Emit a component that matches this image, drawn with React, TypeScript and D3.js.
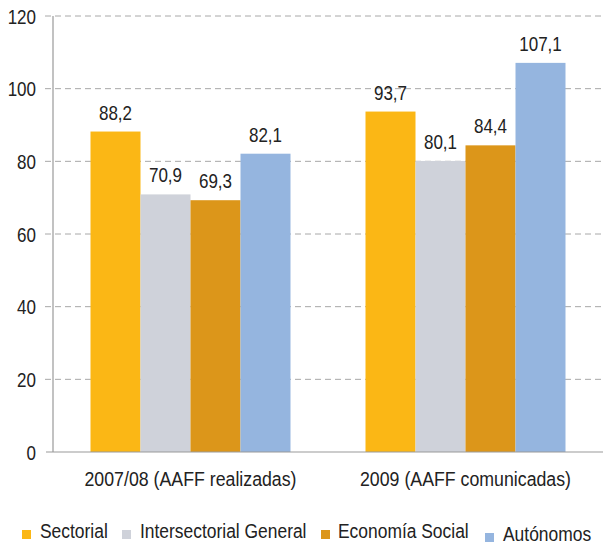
import React from "react";
import * as d3 from "d3";

const categories = ["2007/08 (AAFF realizadas)", "2009 (AAFF comunicadas)"];
const seriesNames = ["Sectorial", "Intersectorial General", "Economía Social", "Autónomos"];
const sectorial = [88.2, 93.7];
const intersectorial = [70.9, 80.1];
const economiaSocial = [69.3, 84.4];
const autonomos = [82.1, 107.1];
const yTicks = [0, 20, 40, 60, 80, 100, 120];
const colors = ["#FBB715", "#CFD2DA", "#DC961A", "#95B5DF"];

const seriesValues = [sectorial, intersectorial, economiaSocial, autonomos];

const W = 603;
const H = 549;
const left = 53;
const right = 603;
const top = 16;
const bottom = 452;
const FONT = "'Liberation Sans', Arial, sans-serif";

// Condensed text: regular sans glyphs squeezed horizontally
function CText(props: {
  x: number;
  y: number;
  size: number;
  sx?: number;
  anchor?: "start" | "middle" | "end";
  dy?: string;
  children: React.ReactNode;
}) {
  const sx = props.sx ?? 0.81;
  return (
    <text
      transform={`translate(${props.x},${props.y}) scale(${sx},1)`}
      textAnchor={props.anchor || "start"}
      dy={props.dy}
      fontSize={props.size}
      fontFamily={FONT}
      fill="#222"
    >
      {props.children}
    </text>
  );
}

export default function App() {
  const y = d3.scaleLinear().domain([0, 120]).range([bottom, top]);
  const x0 = d3.scaleBand<string>().domain(categories).range([left, right]).padding(0);
  const x1 = d3
    .scaleBand<string>()
    .domain(seriesNames)
    .range([0, x0.bandwidth()])
    .paddingInner(0)
    .paddingOuter(0.75);
  const fmt = (v: number) => v.toFixed(1).replace(".", ",");

  // legend layout: square x, text x, vertical offset
  const legendItems = [
    { sq: 22, tx: 40, dy: 0 },
    { sq: 122, tx: 140, dy: 0 },
    { sq: 321, tx: 338, dy: 0 },
    { sq: 485, tx: 503, dy: 3 },
  ];

  return (
    <svg width={W} height={H} style={{ position: "absolute", left: 0, top: 0, background: "#fff" }}>
      {/* gridlines */}
      {yTicks
        .filter((t) => t > 0)
        .map((t) => (
          <line
            key={"g" + t}
            x1={45}
            x2={right}
            y1={y(t)}
            y2={y(t)}
            stroke="#A8A8A8"
            strokeWidth={1}
            strokeDasharray="6,4"
          />
        ))}
      {/* bars */}
      {categories.map((c, ci) =>
        seriesNames.map((s, si) => {
          const v = seriesValues[si][ci];
          const bx = (x0(c) as number) + (x1(s) as number);
          return (
            <g key={c + s}>
              <rect x={bx} y={y(v)} width={x1.bandwidth()} height={y(0) - y(v)} fill={colors[si]} />
              <CText x={bx + x1.bandwidth() / 2} y={y(v) - 12} size={21} anchor="middle">
                {fmt(v)}
              </CText>
            </g>
          );
        })
      )}
      {/* axes */}
      <line x1={left} x2={left} y1={top} y2={bottom} stroke="#999" strokeWidth={1.2} />
      <line x1={46} x2={right} y1={bottom} y2={bottom} stroke="#999" strokeWidth={1.2} />
      {yTicks.map((t) => (
        <CText key={"t" + t} x={36} y={y(t)} dy="0.36em" size={21} anchor="end">
          {t}
        </CText>
      ))}
      {categories.map((c) => (
        <CText
          key={"c" + c}
          x={(x0(c) as number) + x0.bandwidth() / 2}
          y={486}
          size={21}
          sx={0.845}
          anchor="middle"
        >
          {c}
        </CText>
      ))}
      {/* legend */}
      {seriesNames.map((s, i) => (
        <g key={"l" + s}>
          <rect x={legendItems[i].sq} y={530 + legendItems[i].dy} width={9} height={9} fill={colors[i]} />
          <CText x={legendItems[i].tx} y={538 + legendItems[i].dy} size={21} sx={0.83}>
            {s}
          </CText>
        </g>
      ))}
    </svg>
  );
}
